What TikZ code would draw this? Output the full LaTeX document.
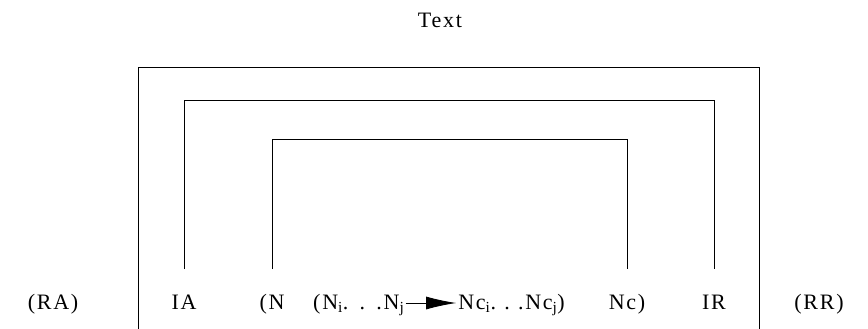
\documentclass[tikz,border=0pt]{standalone}
\usepackage{fontspec}
\setmainfont{Liberation Serif}[LetterSpace=8]
\usetikzlibrary{arrows.meta}
\begin{document}
\begin{tikzpicture}[x=1pt,y=-1pt,
  lbl/.style={inner sep=0pt, anchor=base, font=\fontsize{22}{26}\selectfont},
  bracket/.style={line width=0.7pt},
  framestyle/.style={line width=1pt}]
\useasboundingbox (0,0) rectangle (868,329);
% levels
\coordinate (lowY) at (0,269);
\coordinate (topA) at (0,100);
\coordinate (topN) at (0,139);
\coordinate (arrowY) at (0,303);
% frame
\coordinate (FL) at (138.5,329);
\coordinate (FR) at (759,329);
\coordinate (FT) at (0,68);
% labels
\node[lbl] (title) at (440,28) {Text};
\node[lbl] (RA) at (53,309) {(RA)};
\node[lbl] (IA) at (184,309) {IA};
\node[lbl] (N) at (272,309) {(N};
\node[lbl, anchor=base west] (Ni) at (313,309) {(N\textsubscript{i}.\ \hspace{4pt}.\ \hspace{4pt}.N\textsubscript{j}};
\node[lbl, anchor=base east] (Nci) at (565,309) {Nc\textsubscript{i}.\ \hspace{1pt}.\ \hspace{1pt}.Nc\textsubscript{j})};
\node[lbl] (Nc) at (627,309) {Nc)};
\node[lbl] (IR) at (714,309) {IR};
\node[lbl] (RR) at (819,309) {(RR)};
% frame lines
\draw[framestyle] (FL) -- (FL |- FT) -- (FR |- FT) -- (FR);
% brackets
\draw[bracket] (IA.north |- lowY) -- (IA.north |- topA) -- (IR.north |- topA) -- (IR.north |- lowY);
\draw[bracket] (N.north |- lowY) -- (N.north |- topN) -- (Nc.north |- topN) -- (Nc.north |- lowY);
% arrow
\draw[line width=0.8pt, -{Latex[length=30pt,width=13pt]}, shorten <=1pt, shorten >=2pt] (Ni.east |- arrowY) -- (Nci.west |- arrowY);
\end{tikzpicture}
\end{document}
